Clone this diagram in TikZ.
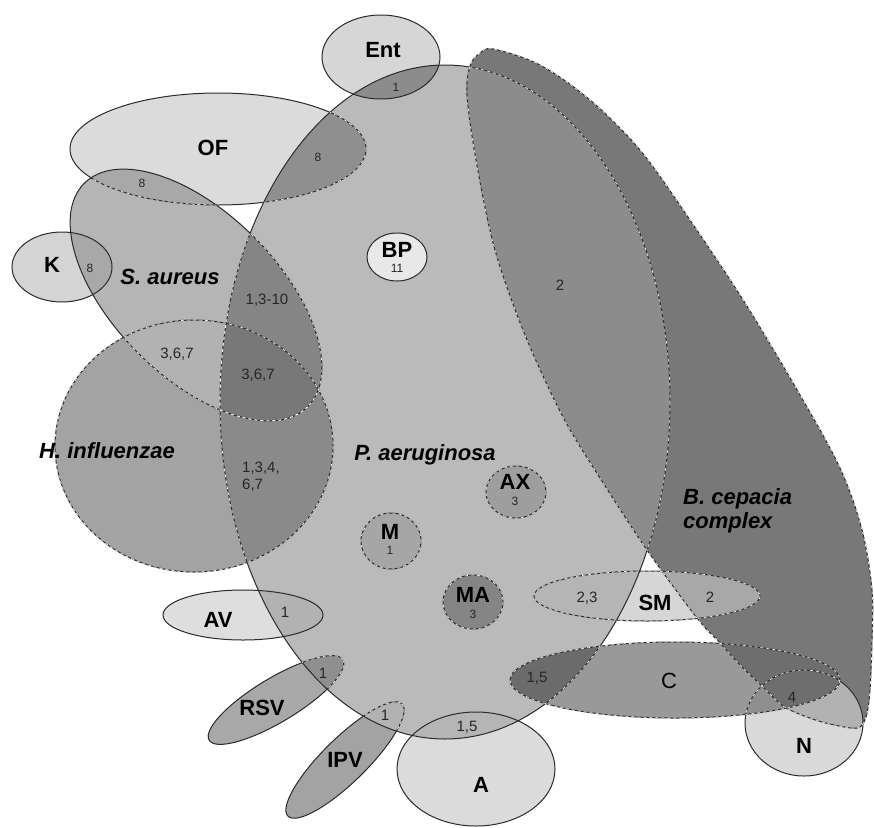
\documentclass[tikz,border=0pt]{standalone}
\usepackage{fontspec}
\setmainfont{Liberation Sans}
\definecolor{cPA}{gray}{0.73}
\definecolor{cBC}{gray}{0.47}
\definecolor{cPABC}{gray}{0.55}
\definecolor{cEnt}{gray}{0.84}
\definecolor{cEntPA}{gray}{0.55}
\definecolor{cOF}{gray}{0.86}
\definecolor{cOFPA}{gray}{0.56}
\definecolor{cOFSA}{gray}{0.66}
\definecolor{cSA}{gray}{0.71}
\definecolor{cSAPA}{gray}{0.52}
\definecolor{cK}{gray}{0.83}
\definecolor{cKSA}{gray}{0.66}
\definecolor{cHI}{gray}{0.64}
\definecolor{cHISA}{gray}{0.70}
\definecolor{cHIPA}{gray}{0.54}
\definecolor{cHISAPA}{gray}{0.47}
\definecolor{cBP}{gray}{0.91}
\definecolor{cAX}{gray}{0.62}
\definecolor{cM}{gray}{0.65}
\definecolor{cMA}{gray}{0.52}
\definecolor{cAV}{gray}{0.87}
\definecolor{cAVPA}{gray}{0.70}
\definecolor{cRSV}{gray}{0.66}
\definecolor{cRSVPA}{gray}{0.56}
\definecolor{cIPV}{gray}{0.64}
\definecolor{cIPVPA}{gray}{0.70}
\definecolor{cA}{gray}{0.86}
\definecolor{cAPA}{gray}{0.71}
\definecolor{cSM}{gray}{0.84}
\definecolor{cSMPA}{gray}{0.71}
\definecolor{cSMBC}{gray}{0.66}
\definecolor{cC}{gray}{0.60}
\definecolor{cCPA}{gray}{0.42}
\definecolor{cCBC}{gray}{0.43}
\definecolor{cN}{gray}{0.85}
\definecolor{cNBC}{gray}{0.70}
\definecolor{cNC}{gray}{0.56}
\definecolor{cNCBC}{gray}{0.43}
\definecolor{edge}{gray}{0.17}
\newcommand\shpPA[1]{\path[#1] (445,402) ellipse [x radius=225,y radius=337];}
\newcommand\shpBC[1]{\path[#1] plot[smooth cycle,tension=0.55] coordinates {
  (493,49) (540,65) (590,100) (640,150) (690,220) (745,303) (800,395)
  (840,468) (862,530) (872,590) (872,640) (870,690) (866,717) (857,728)
  (830,724) (807,717) (783,706) (762,686) (740,665) (720,643) (697,618)
  (647,550) (600,478) (563,417) (525,335) (495,250) (476,160) (467,95)
  (470,66) (479,54)};}
\newcommand\shpEnt[1]{\path[#1] (381,57) ellipse [x radius=59,y radius=42];}
\newcommand\shpOF[1]{\path[#1] (218,149) ellipse [x radius=148,y radius=56];}
\newcommand\shpSA[1]{\path[#1,rotate around={-45:(196,295)}] (196,295) ellipse [x radius=158,y radius=82];}
\newcommand\shpK[1]{\path[#1] (62,267) ellipse [x radius=50,y radius=35];}
\newcommand\shpHI[1]{\path[#1] (194,446) ellipse [x radius=139,y radius=126];}
\newcommand\shpBP[1]{\path[#1] (397,257) ellipse [x radius=30,y radius=24];}
\newcommand\shpAX[1]{\path[#1] (516,492) ellipse [x radius=30,y radius=26];}
\newcommand\shpM[1]{\path[#1] (391,541) ellipse [x radius=30,y radius=28];}
\newcommand\shpMA[1]{\path[#1] (473,602) ellipse [x radius=30,y radius=27];}
\newcommand\shpAV[1]{\path[#1] (243,615) ellipse [x radius=80,y radius=25];}
\newcommand\shpSM[1]{\path[#1] (647,596) ellipse [x radius=113,y radius=25];}
\newcommand\shpC[1]{\path[#1] (675,680) ellipse [x radius=165,y radius=38];}
\newcommand\shpN[1]{\path[#1] (804,723) ellipse [x radius=59,y radius=53];}
\newcommand\shpA[1]{\path[#1] (476,769) ellipse [x radius=79,y radius=57];}
\newcommand\shpRSV[1]{\path[#1,rotate around={31:(276,700)}] (276,700) ellipse [x radius=78,y radius=22];}
\newcommand\shpIPV[1]{\path[#1,rotate around={44.5:(345,760)}] (345,760) ellipse [x radius=80,y radius=22];}
\newcommand\interfill[3]{\begin{scope}#1{clip}#2{fill=#3}\end{scope}}
\newcommand\innerdash[2]{\begin{scope}#1{clip}#2{wdash}\end{scope}}
\tikzset{
  outl/.style={draw=edge,line width=1pt},
  wdash/.style={draw=white,line width=0.6pt,dash pattern=on 3pt off 3pt},
  lab/.style={inner sep=0pt,font=\fontsize{22}{22}\selectfont\bfseries},
  ital/.style={inner sep=0pt,font=\fontsize{22}{24}\selectfont\bfseries\itshape},
  num/.style={inner sep=0pt,font=\fontsize{15}{17}\selectfont,text=black!85},
  sml/.style={inner sep=0pt,font=\fontsize{12}{12}\selectfont,text=black!85}
}
\begin{document}
\begin{tikzpicture}[x=1pt,y=-1pt]
\useasboundingbox (0,0) rectangle (874,827);
% base fills
\shpPA{fill=cPA}
\shpBC{fill=cBC}
\interfill{\shpPA}{\shpBC}{cPABC}
\shpHI{fill=cHI}
\shpSA{fill=cSA}
\shpOF{fill=cOF}
\shpK{fill=cK}
\shpEnt{fill=cEnt}
\shpAV{fill=cAV}
\shpRSV{fill=cRSV}
\shpIPV{fill=cIPV}
\shpA{fill=cA}
\shpSM{fill=cSM}
\shpC{fill=cC}
\shpN{fill=cN}
% intersections
\interfill{\shpPA}{\shpEnt}{cEntPA}
\interfill{\shpPA}{\shpOF}{cOFPA}
\interfill{\shpSA}{\shpOF}{cOFSA}
\interfill{\shpSA}{\shpK}{cKSA}
\interfill{\shpPA}{\shpSA}{cSAPA}
\interfill{\shpSA}{\shpHI}{cHISA}
\interfill{\shpPA}{\shpHI}{cHIPA}
\begin{scope}\shpPA{clip}\shpSA{clip}\shpHI{fill=cHISAPA}\end{scope}
\interfill{\shpPA}{\shpAV}{cAVPA}
\interfill{\shpPA}{\shpRSV}{cRSVPA}
\interfill{\shpPA}{\shpIPV}{cIPVPA}
\interfill{\shpPA}{\shpA}{cAPA}
\interfill{\shpPA}{\shpSM}{cSMPA}
\interfill{\shpBC}{\shpSM}{cSMBC}
\interfill{\shpPA}{\shpC}{cCPA}
\interfill{\shpBC}{\shpC}{cCBC}
\interfill{\shpBC}{\shpN}{cNBC}
\interfill{\shpC}{\shpN}{cNC}
\begin{scope}\shpBC{clip}\shpC{clip}\shpN{fill=cNCBC}\end{scope}
\shpBP{fill=cBP}
\shpAX{fill=cAX}
\shpM{fill=cM}
\shpMA{fill=cMA}
% outlines
\shpPA{outl}\shpBC{outl}\shpEnt{outl}\shpOF{outl}\shpSA{outl}\shpK{outl}
\shpHI{outl}\shpBP{outl}\shpAX{outl}\shpM{outl}\shpMA{outl}\shpAV{outl}
\shpSM{outl}\shpC{outl}\shpN{outl}\shpA{outl}\shpRSV{outl}\shpIPV{outl}
% white dashes
\shpBC{wdash}\shpHI{wdash}\shpAX{wdash}\shpM{wdash}\shpMA{wdash}\shpSM{wdash}\shpC{wdash}
\innerdash{\shpBC}{\shpPA}
\innerdash{\shpSA}{\shpPA}
\innerdash{\shpHI}{\shpPA}
\innerdash{\shpC}{\shpPA}
\innerdash{\shpPA}{\shpSA}
\innerdash{\shpHI}{\shpSA}
\innerdash{\shpPA}{\shpOF}
\innerdash{\shpSA}{\shpOF}
\innerdash{\shpC}{\shpN}
\innerdash{\shpPA}{\shpRSV}
\innerdash{\shpPA}{\shpIPV}
% labels
\node[lab] (tEnt) at (383,50) {Ent};
\node[sml] (nEnt) at (396,87) {1};
\node[lab] (tOF) at (213,148) {OF};
\node[sml] (nOFPA) at (318,157) {8};
\node[sml] (nOFSA) at (142,183) {8};
\node[lab] (tK) at (52,265) {K};
\node[sml] (nK) at (90,268) {8};
\node[ital] (tSA) at (170,277) {S. aureus};
\node[lab] (tBP) at (397,250) {BP};
\node[sml] (nBP) at (397,268) {11};
\node[num] (nSAPA) at (267,300) {1,3-10};
\node[num] (nHISA) at (177,354) {3,6,7};
\node[num] (nHISAPA) at (258,375) {3,6,7};
\node[ital] (tPA) at (425,455) {P. aeruginosa};
\node[ital] (tHI) at (107,451) {H. influenzae};
\node[num,align=left,anchor=north west] (nHIPA) at (242,462) {1,3,4,\\6,7};
\node[num] (nPABC) at (560,285) {2};
\node[lab] (tAX) at (515,482) {AX};
\node[sml] (nAX) at (515,501) {3};
\node[lab] (tM) at (390,532) {M};
\node[sml] (nM) at (390,550) {1};
\node[ital,align=left,anchor=west] (tBC) at (683,511) {B. cepacia\\complex};
\node[lab] (tMA) at (473,595) {MA};
\node[sml] (nMA) at (473,614) {3};
\node[lab] (tAV) at (218,620) {AV};
\node[num] (nAV) at (285,612) {1};
\node[num] (nSMPA) at (587,598) {2,3};
\node[lab] (tSM) at (655,603) {SM};
\node[num] (nSMBC) at (710,597) {2};
\node[num] (nCPA) at (537,678) {1,5};
\node[lab,font=\fontsize{22}{22}\selectfont] (tC) at (669,681) {C};
\node[num] (nNC) at (792,697) {4};
\node[num] (nRSV) at (323,673) {1};
\node[lab] (tRSV) at (262,708) {RSV};
\node[num] (nIPV) at (385,715) {1};
\node[lab] (tIPV) at (345,760) {IPV};
\node[num] (nAPA) at (467,727) {1,5};
\node[lab] (tA) at (481,785) {A};
\node[lab] (tN) at (804,746) {N};
\end{tikzpicture}
\end{document}
